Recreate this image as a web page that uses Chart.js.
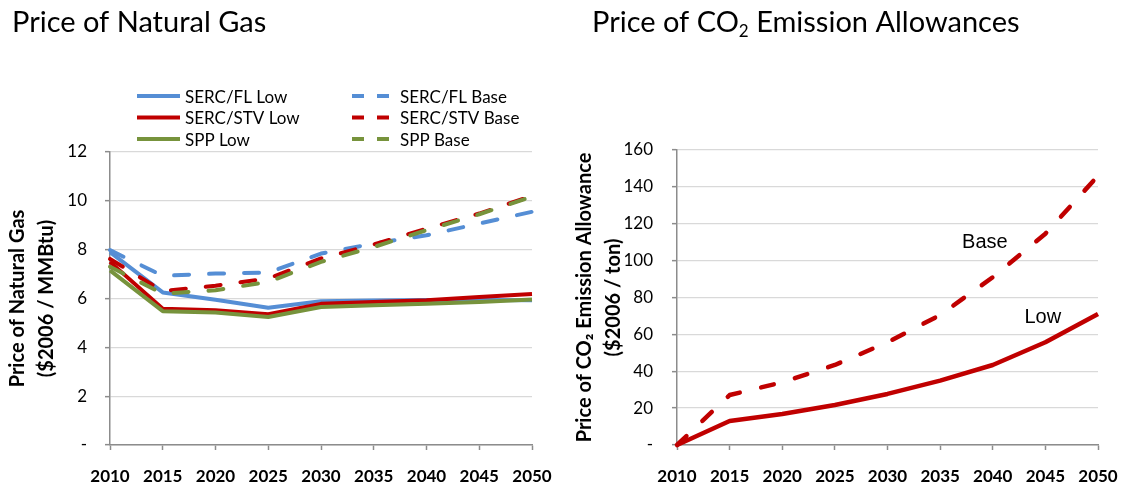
<!DOCTYPE html>
<html>
<head>
<meta charset="utf-8">
<script src="https://cdn.jsdelivr.net/npm/chart.js@4.4.0/dist/chart.umd.min.js"></script>
<style>
    html, body { margin: 0; padding: 0; background: #fff; }
    #wrap { position: relative; width: 1123px; height: 487px; overflow: hidden; }
    #gas-box { position: absolute; left: 0; top: 0; }
    #co2-box { position: absolute; left: 560px; top: 0; }
</style>
</head>
<body>
<div id="wrap">
    <div id="gas-box"><canvas id="gas-chart" width="560" height="487"></canvas></div>
    <div id="co2-box"><canvas id="co2-chart" width="563" height="487"></canvas></div>
</div>
<script>
// categories
const years = ['2010', '2015', '2020', '2025', '2030', '2035', '2040', '2045', '2050'];

// natural gas price, $2006 / MMBtu
const sercFlLow = [7.9, 6.25, 5.95, 5.62, 5.89, 5.92, 5.94, 5.94, 5.93];
const sercStvLow = [7.5, 5.58, 5.52, 5.36, 5.78, 5.86, 5.93, 6.06, 6.18];
const sppLow = [7.15, 5.48, 5.43, 5.24, 5.65, 5.72, 5.79, 5.86, 5.96];
const sercFlBase = [7.98, 6.93, 7.02, 7.06, 7.84, 8.25, 8.59, 9.07, 9.55];
const sercStvBase = [7.62, 6.3, 6.52, 6.82, 7.64, 8.21, 8.86, 9.48, 10.2];
const sppBase = [7.3, 6.2, 6.34, 6.68, 7.5, 8.11, 8.8, 9.45, 10.17];

// CO2 allowance price, $2006 / ton
const co2Low = [0, 13, 16.8, 21.7, 27.7, 34.9, 43.4, 55.7, 71];
const co2Base = [0, 27.1, 34, 43.4, 55.7, 70.5, 91, 114.6, 146];

// tick labels
const gasTickLabels = ['-', '2', '4', '6', '8', '10', '12'];
const co2TickLabels = ['-', '20', '40', '60', '80', '100', '120', '140', '160'];

const BLUE = '#558ED5';
const RED = '#C00000';
const GREEN = '#77933C';
const AXIS = '#8C8C8C';
const GRID = '#D9D9D9';
const FONT = 'Lato';

// chart heading drawn in the top-left corner (supports a subscript part)
function headingPlugin(parts, x, y) {
    return {
        id: 'heading',
        afterDraw(chart) {
            const ctx = chart.ctx;
            ctx.save();
            ctx.fillStyle = '#000';
            ctx.textBaseline = 'alphabetic';
            ctx.textAlign = 'left';
            let cx = x;
            parts.forEach(p => {
                ctx.font = (p.sub ? '17px ' : '29px ') + FONT;
                ctx.fillText(p.text, cx, p.sub ? y + 5 : y);
                cx += ctx.measureText(p.text).width;
            });
            ctx.restore();
        }
    };
}

// two-column legend (Low series left, Base series right)
const gridLegend = {
    id: 'gridLegend',
    afterDraw(chart) {
        const ctx = chart.ctx;
        const colX = [137, 352];
        const rowY = [96, 117.5, 139];
        ctx.save();
        chart.data.datasets.forEach((ds, i) => {
            const col = Math.floor(i / 3);
            const row = i % 3;
            const x0 = colX[col];
            const y0 = rowY[row];
            ctx.beginPath();
            ctx.strokeStyle = ds.borderColor;
            ctx.lineWidth = 4;
            ctx.lineCap = 'butt';
            ctx.setLineDash(ds.borderDash && ds.borderDash.length ? [12, 13] : []);
            ctx.moveTo(x0, y0);
            ctx.lineTo(x0 + 43, y0);
            ctx.stroke();
            ctx.setLineDash([]);
            ctx.fillStyle = '#000';
            ctx.font = '17px ' + FONT;
            ctx.textBaseline = 'alphabetic';
            ctx.textAlign = 'left';
            ctx.fillText(ds.label, x0 + 48, y0 + 6.5);
        });
        ctx.restore();
    }
};

// series labels inside the CO2 chart
const co2Labels = [
    { text: 'Base', x: 5.85, y: 106.7 },
    { text: 'Low', x: 6.95, y: 66 }
];
const seriesLabels = {
    id: 'seriesLabels',
    afterDatasetsDraw(chart) {
        const ctx = chart.ctx;
        const xs = chart.scales.x, ys = chart.scales.y;
        ctx.save();
        ctx.fillStyle = '#000';
        ctx.font = '20px "Liberation Sans", Arial, sans-serif';
        ctx.textAlign = 'center';
        ctx.textBaseline = 'alphabetic';
        co2Labels.forEach(l => ctx.fillText(l.text, xs.getPixelForValue(l.x), ys.getPixelForValue(l.y)));
        ctx.restore();
    }
};

function lineSet(label, data, color, dashed, order, width) {
    return {
        label: label,
        data: data,
        borderColor: color,
        backgroundColor: color,
        borderWidth: width,
        borderDash: dashed ? (width > 4 ? [13, 22] : [15, 20]) : [],
        borderCapStyle: dashed ? 'round' : 'butt',
        borderJoinStyle: 'round',
        pointRadius: 0,
        tension: 0,
        fill: false,
        clip: false,
        order: order
    };
}

function xScale(labelPad) {
    return {
        offset: false,
        grid: { display: true, drawOnChartArea: false, drawTicks: true, tickLength: 5, tickColor: AXIS, tickWidth: 1.5 },
        border: { display: true, color: AXIS, width: 1.5 },
        ticks: { color: '#000', font: { family: FONT, size: 17, weight: 'bold' }, padding: labelPad, maxRotation: 0, autoSkip: false },
        afterFit(scale) {
            scale.height = 42;
            // let the layout padding alone decide the plot width
            scale.paddingLeft = 0;
            scale.paddingRight = 0;
        }
    };
}

function yScale(max, step, tickLabels, titleText, titlePad, width, tickPad) {
    return {
        min: 0,
        max: max,
        ticks: {
            stepSize: step,
            color: '#000',
            font: { family: FONT, size: 17 },
            padding: tickPad,
            callback: (v, i) => tickLabels[i]
        },
        grid: { color: GRID, lineWidth: 1.3, drawTicks: true, tickLength: 5, tickColor: AXIS, tickWidth: 1.5 },
        border: { display: true, color: AXIS, width: 1.5 },
        title: {
            display: true,
            text: titleText,
            color: '#000',
            font: { family: FONT, size: 20, weight: 'bold', lineHeight: 1.45 },
            padding: { top: titlePad, bottom: 0 }
        },
        afterFit(scale) { scale.width = width; }
    };
}

const baseOptions = {
    responsive: false,
    animation: false,
    events: [],
    plugins: { legend: { display: false }, title: { display: false }, tooltip: { enabled: false } }
};

new Chart(document.getElementById('gas-chart'), {
    type: 'line',
    data: {
        labels: years,
        datasets: [
            lineSet('SERC/FL Low', sercFlLow, BLUE, false, 6, 4),
            lineSet('SERC/STV Low', sercStvLow, RED, false, 5, 4),
            lineSet('SPP Low', sppLow, GREEN, false, 4, 4),
            lineSet('SERC/FL Base', sercFlBase, BLUE, true, 3, 4),
            lineSet('SERC/STV Base', sercStvBase, RED, true, 2, 4),
            lineSet('SPP Base', sppBase, GREEN, true, 1, 4)
        ]
    },
    options: Object.assign({}, baseOptions, {
        layout: { padding: { left: 0, right: 28, top: 152, bottom: 0 } },
        scales: {
            x: xScale(16),
            y: yScale(12, 2, gasTickLabels, ['Price of Natural Gas', '($2006 / MMBtu)'], 3, 110, 18)
        }
    }),
    plugins: [headingPlugin([{ text: 'Price of Natural Gas' }], 12, 31.7), gridLegend]
});

new Chart(document.getElementById('co2-chart'), {
    type: 'line',
    data: {
        labels: years,
        datasets: [
            lineSet('Low', co2Low, RED, false, 2, 4.5),
            lineSet('Base', co2Base, RED, true, 1, 4.5)
        ]
    },
    options: Object.assign({}, baseOptions, {
        layout: { padding: { left: 0, right: 25, top: 150, bottom: 0 } },
        scales: {
            x: xScale(16),
            y: yScale(160, 20, co2TickLabels, ['Price of CO\u2082 Emission Allowance', '($2006 / ton)'], 10, 117, 19)
        }
    }),
    plugins: [headingPlugin([{ text: 'Price of CO' }, { text: '2', sub: true }, { text: ' Emission Allowances' }], 32, 31.7), seriesLabels]
});
</script>
</body>
</html>
